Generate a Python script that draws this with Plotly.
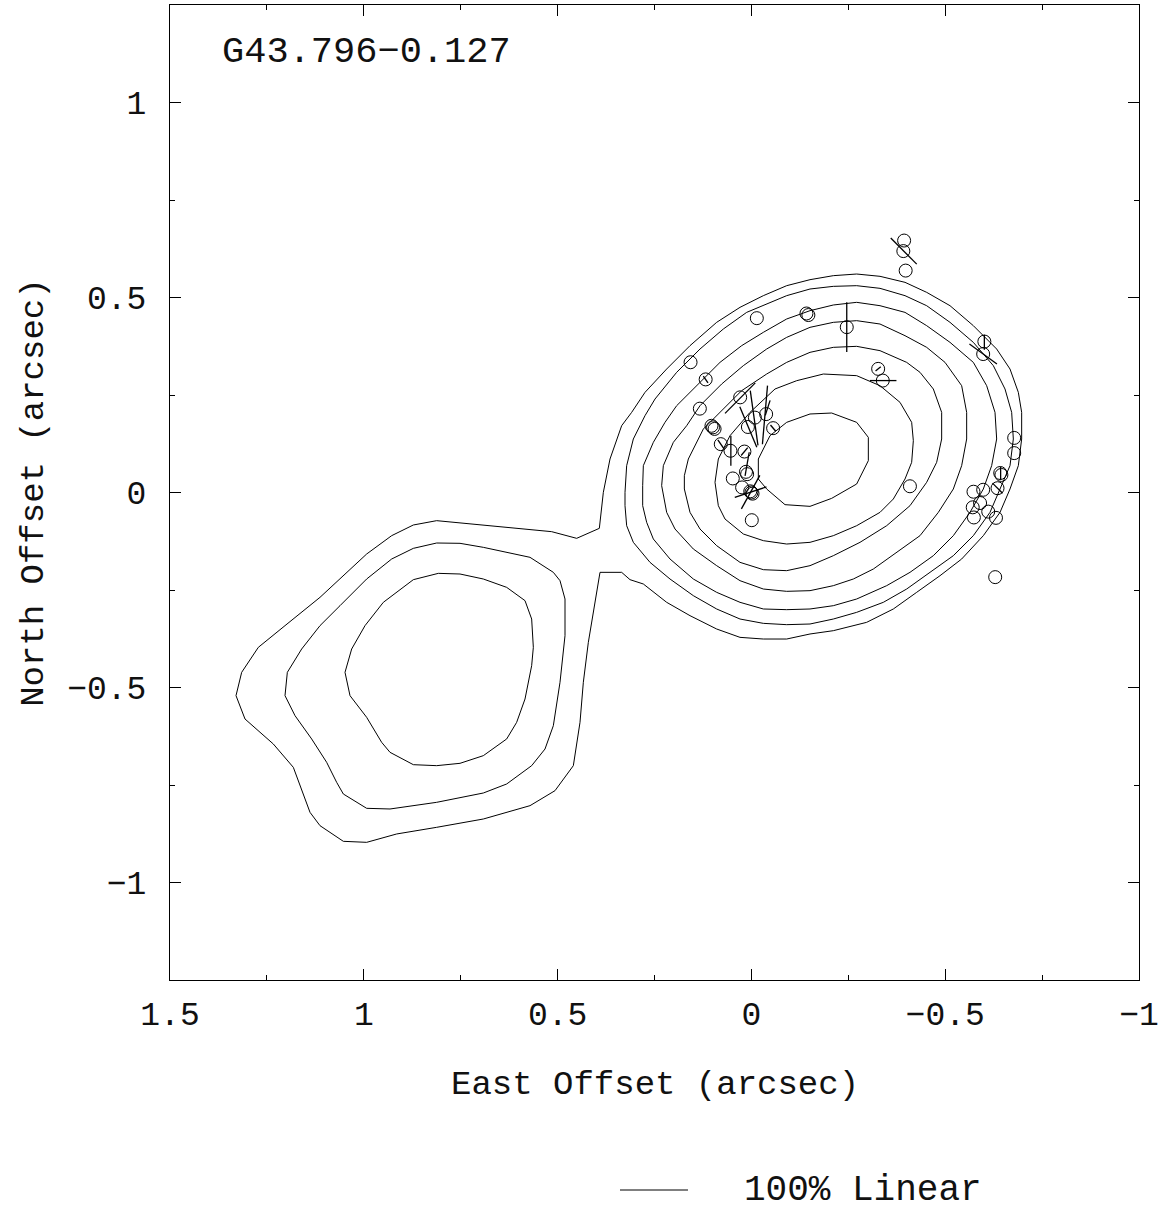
import math
import plotly.graph_objects as go

# ---------------- data (arcsec) ----------------
source_name = "G43.796\u22120.127"
legend_label = "100% Linear"
legend_percent = 100.0

x_tickvals = [1.5, 1.0, 0.5, 0.0, -0.5, -1.0]
x_ticktext = ["1.5", "1", "0.5", "0", "\u22120.5", "\u22121"]
y_tickvals = [1.0, 0.5, 0.0, -0.5, -1.0]
y_ticktext = ["1", "0.5", "0", "\u22120.5", "\u22121"]
minor_vals = [1.25, 0.75, 0.25, -0.25, -0.75]

# outermost contour (encloses both components, narrow waist between them)
outer_x = [0.3923, 0.4508, 0.5153, 0.6314, 0.7518, 0.8120, 0.8722, 0.9281, 0.9926, 1.0528,
           1.1130, 1.2033, 1.2721, 1.3151, 1.3297, 1.3065, 1.2334, 1.1818, 1.1388, 1.1130,
           1.0528, 0.9926, 0.9152, 0.8120, 0.6916, 0.5712, 0.5067, 0.4594, 0.4422, 0.4336,
           0.4207, 0.3906, 0.3347, 0.3132,
           0.2788, 0.2186, 0.1584, 0.0896, 0.0294, -0.0308, -0.0910, -0.1512, -0.2114, -0.2974,
           -0.3662, -0.4264, -0.4866, -0.5425, -0.5984, -0.6414, -0.6672, -0.6887, -0.6973, -0.6973,
           -0.6887, -0.6672, -0.6328, -0.5726, -0.5124, -0.4522, -0.3963, -0.3318, -0.2716, -0.2114,
           -0.1512, -0.0910, -0.0308, 0.0294, 0.0896, 0.1584, 0.2186, 0.2745, 0.3089, 0.3347,
           0.3648, 0.3820, 0.3923, 0.3923]
outer_y = [-0.0919, -0.1175, -0.1004, -0.0893, -0.0765, -0.0722, -0.0833, -0.1107, -0.1577, -0.2132,
           -0.2688, -0.3414, -0.3970, -0.4611, -0.5209, -0.5808, -0.6449, -0.7047, -0.8201, -0.8543,
           -0.8944, -0.8970, -0.8756, -0.8585, -0.8372, -0.8030, -0.7645, -0.7004, -0.5893, -0.4867,
           -0.3842, -0.2047, -0.2047, -0.2235,
           -0.2346, -0.2816, -0.3158, -0.3500, -0.3714, -0.3757, -0.3757, -0.3628, -0.3543, -0.3329,
           -0.2987, -0.2560, -0.2133, -0.1705, -0.1107, -0.0509, 0.0090, 0.0688, 0.1372, 0.2055,
           0.2568, 0.3166, 0.3679, 0.4278, 0.4790, 0.5132, 0.5389, 0.5543, 0.5602, 0.5560,
           0.5457, 0.5303, 0.5047, 0.4748, 0.4363, 0.3765, 0.3166, 0.2568, 0.2055, 0.1713,
           0.0859, 0.0004, -0.0893, -0.0919]

# south-east component, middle and inner contours
se_mid_x = [0.8120, 0.7518, 0.6916, 0.6314, 0.5712, 0.5110, 0.4938, 0.4809, 0.4809, 0.4938,
            0.5110, 0.5325, 0.5669, 0.6314, 0.6916, 0.8120, 0.9324, 0.9926, 1.0528, 1.0700,
            1.0958, 1.1345, 1.1775, 1.2033, 1.1973, 1.1603, 1.1130, 1.0614, 0.9926, 0.9281,
            0.8722, 0.8120]
se_mid_y = [-0.1295, -0.1303, -0.1406, -0.1534, -0.1662, -0.2047, -0.2261, -0.2731, -0.3671, -0.4867,
            -0.5979, -0.6577, -0.7004, -0.7474, -0.7705, -0.7944, -0.8115, -0.8098, -0.7731, -0.7432,
            -0.6919, -0.6320, -0.5722, -0.5209, -0.4611, -0.4013, -0.3414, -0.2902, -0.2218, -0.1705,
            -0.1432, -0.1295]
se_in_x = [0.8077, 0.7518, 0.6916, 0.6314, 0.5841, 0.5669, 0.5626, 0.5669, 0.5841, 0.6056,
           0.6314, 0.6916, 0.7518, 0.8120, 0.8722, 0.9324, 0.9539, 0.9926, 1.0356, 1.0485,
           1.0313, 0.9969, 0.9496, 0.8722, 0.8077]
se_in_y = [-0.2073, -0.2090, -0.2218, -0.2432, -0.2773, -0.3244, -0.3970, -0.4440, -0.5295, -0.5893,
           -0.6320, -0.6748, -0.6944, -0.7004, -0.6979, -0.6662, -0.6406, -0.5765, -0.5209, -0.4611,
           -0.4013, -0.3414, -0.2816, -0.2235, -0.2073]

# north-west component, contours 6 (outer) .. 1 (inner)
nw6_x = [0.3261, 0.3218, 0.3046, 0.2745, 0.2487, 0.1928, 0.1326, 0.0724, 0.0122, -0.0480,
         -0.0910, -0.1512, -0.2114, -0.2716, -0.3318, -0.3963, -0.4522, -0.5124, -0.5726, -0.6242,
         -0.6543, -0.6715, -0.6758, -0.6672, -0.6414, -0.6156, -0.5726, -0.5210, -0.4608, -0.4006,
         -0.3404, -0.2716, -0.2114, -0.1512, -0.0910, -0.0308, 0.0294, 0.0896, 0.1498, 0.2100,
         0.2616, 0.3046, 0.3218, 0.3261, 0.3261]
nw6_y = [0.0004, 0.0688, 0.1372, 0.1970, 0.2397, 0.3081, 0.3679, 0.4192, 0.4619, 0.4876,
         0.5047, 0.5218, 0.5286, 0.5303, 0.5235, 0.5047, 0.4790, 0.4363, 0.3850, 0.3252,
         0.2654, 0.2055, 0.1372, 0.0688, 0.0090, -0.0509, -0.1107, -0.1620, -0.2047, -0.2475,
         -0.2816, -0.3073, -0.3244, -0.3372, -0.3389, -0.3355, -0.3244, -0.2987, -0.2645, -0.2218,
         -0.1791, -0.1278, -0.0851, -0.0338, 0.0004]
nw5_x = [0.2805, 0.2788, 0.2530, 0.2229, 0.1928, 0.1412, 0.0810, 0.0251, -0.0308, -0.0910,
         -0.1512, -0.2114, -0.2716, -0.3318, -0.3963, -0.4522, -0.5124, -0.5726, -0.6070, -0.6285,
         -0.6328, -0.6199, -0.5984, -0.5640, -0.5210, -0.4694, -0.4092, -0.3490, -0.2716, -0.2114,
         -0.1512, -0.0910, -0.0308, 0.0294, 0.0896, 0.1498, 0.2100, 0.2530, 0.2702, 0.2805,
         0.2805]
nw5_y = [0.0175, 0.0688, 0.1286, 0.1799, 0.2226, 0.2739, 0.3337, 0.3765, 0.4107, 0.4449,
         0.4662, 0.4808, 0.4876, 0.4790, 0.4619, 0.4278, 0.3850, 0.3337, 0.2739, 0.2055,
         0.1372, 0.0688, 0.0090, -0.0509, -0.1107, -0.1620, -0.2047, -0.2389, -0.2731, -0.2902,
         -0.2987, -0.3004, -0.2987, -0.2816, -0.2560, -0.2218, -0.1705, -0.1192, -0.0765, -0.0338,
         0.0175]
nw4_x = [0.2315, 0.2272, 0.2014, 0.1670, 0.1326, 0.0767, 0.0208, -0.0394, -0.0910, -0.1512,
         -0.2114, -0.2716, -0.3318, -0.3963, -0.4522, -0.4995, -0.5425, -0.5554, -0.5554, -0.5425,
         -0.5210, -0.4823, -0.4350, -0.3748, -0.3146, -0.2630, -0.2114, -0.1512, -0.0910, -0.0308,
         0.0294, 0.0896, 0.1498, 0.1971, 0.2186, 0.2315]
nw4_y = [0.0175, 0.0688, 0.1286, 0.1713, 0.2226, 0.2782, 0.3252, 0.3679, 0.3978, 0.4235,
         0.4363, 0.4406, 0.4320, 0.4021, 0.3722, 0.3337, 0.2739, 0.2055, 0.1372, 0.0688,
         0.0090, -0.0509, -0.1107, -0.1534, -0.1962, -0.2218, -0.2389, -0.2517, -0.2534, -0.2475,
         -0.2261, -0.1876, -0.1449, -0.0936, -0.0509, 0.0175]
nw3_x = [0.1730, 0.1627, 0.1240, 0.0724, 0.0251, -0.0394, -0.0910, -0.1512, -0.2114, -0.2716,
         -0.3318, -0.4006, -0.4350, -0.4694, -0.4909, -0.4909, -0.4780, -0.4522, -0.4092, -0.3490,
         -0.2802, -0.2114, -0.1512, -0.0910, -0.0308, 0.0294, 0.0896, 0.1326, 0.1584, 0.1730,
         0.1730]
nw3_y = [0.0431, 0.0859, 0.1628, 0.2141, 0.2611, 0.3038, 0.3337, 0.3594, 0.3722, 0.3748,
         0.3637, 0.3337, 0.3081, 0.2654, 0.2055, 0.1372, 0.0773, 0.0261, -0.0338, -0.0851,
         -0.1278, -0.1620, -0.1876, -0.2004, -0.1979, -0.1791, -0.1363, -0.0936, -0.0509, 0.0090,
         0.0431]
nw2_x = [0.0939, 0.0853, 0.0552, 0.0036, -0.0609, -0.1168, -0.1856, -0.2716, -0.3318, -0.3834,
         -0.4135, -0.4178, -0.4135, -0.3963, -0.3662, -0.3318, -0.2716, -0.2114, -0.1512, -0.0910,
         -0.0308, 0.0208, 0.0681, 0.0853, 0.0939]
nw2_y = [0.0261, 0.0859, 0.1457, 0.2055, 0.2654, 0.2867, 0.3038, 0.2996, 0.2739, 0.2312,
         0.1799, 0.1329, 0.0773, 0.0346, -0.0167, -0.0509, -0.0851, -0.1107, -0.1278, -0.1321,
         -0.1235, -0.1064, -0.0680, -0.0338, 0.0261]
nw1_x = [-0.0179, -0.0480, -0.0910, -0.1512, -0.2071, -0.2716, -0.3017, -0.3017, -0.2716, -0.2071,
         -0.1512, -0.0867, -0.0394, -0.0179, -0.0179]
nw1_y = [0.0859, 0.1457, 0.1799, 0.2013, 0.2038, 0.1799, 0.1414, 0.0816, 0.0218, -0.0150,
         -0.0355, -0.0312, 0.0090, 0.0346, 0.0859]

# maser spot positions (arcsec)
spot_x = [0.157, 0.118, -0.014, -0.142, -0.147, -0.246, -0.327, -0.339, -0.394, -0.392,
          -0.398, -0.601, -0.598, -0.678, -0.678, -0.642, -0.645, -0.635, -0.573, -0.598,
          -0.590, -0.571, -0.574, -0.611, -0.631, -0.629, -0.409, 0.133, 0.029, 0.103,
          0.099, 0.095, 0.079, 0.054, 0.018, -0.009, -0.038, 0.009, -0.056, 0.014,
          0.011, 0.048, 0.024, 0.003, 0.000, -0.003, -0.001]
spot_y = [0.334, 0.290, 0.447, 0.459, 0.455, 0.424, 0.317, 0.287, 0.646, 0.619,
          0.569, 0.387, 0.355, 0.140, 0.101, 0.050, 0.045, 0.011, 0.002, 0.007,
          -0.027, -0.038, -0.064, -0.049, -0.065, -0.217, 0.016, 0.215, 0.244, 0.171,
          0.167, 0.163, 0.124, 0.107, 0.105, 0.192, 0.201, 0.168, 0.165, 0.053,
          0.047, 0.036, 0.013, 0.003, 0.000, -0.003, -0.071]

# polarization vectors: centre (arcsec), linear polarization (%), position angle (deg E of N)
vec_x = [-0.246, -0.393, -0.340, -0.598, -0.601, 0.029, -0.007, 0.008, -0.035, -0.056,
         0.053, 0.079, 0.018, 0.011, 0.002, 0.002, 0.118, -0.327, -0.643, -0.635, -0.042]
vec_y = [0.424, 0.619, 0.287, 0.355, 0.385, 0.242, 0.191, 0.168, 0.199, 0.165,
         0.107, 0.124, 0.105, 0.073, 0.001, 0.001, 0.290, 0.317, 0.049, 0.011, 0.217]
vec_pct = [73, 54, 39, 50, 22, 63, 81, 64, 86, 12,
           44, 15, 15, 35, 56, 49, 12, 10, 19, 21, 23]
vec_pa = [0, 45, 90, 54, 0, -45, 8, 23, -5, 40,
          0, 35, -40, -10, -29, -72, 35, -50, 0, 45, -18]

# vector length scale: arcsec per 100 % linear polarization
arcsec_per_100pct = 0.1754

# ---------------- figure ----------------
fig = go.Figure()
line_style = dict(color="black", width=1)

contours = [(outer_x, outer_y), (se_mid_x, se_mid_y), (se_in_x, se_in_y),
            (nw6_x, nw6_y), (nw5_x, nw5_y), (nw4_x, nw4_y),
            (nw3_x, nw3_y), (nw2_x, nw2_y), (nw1_x, nw1_y)]
for cx, cy in contours:
    fig.add_trace(go.Scatter(x=cx, y=cy, mode="lines", line=line_style,
                             hoverinfo="skip", showlegend=False))

fig.add_trace(go.Scatter(x=spot_x, y=spot_y, mode="markers",
                         marker=dict(symbol="circle-open", size=13, color="black",
                                     line=dict(width=1, color="black")),
                         showlegend=False))

vx, vy = [], []
for x0, y0, p, pa in zip(vec_x, vec_y, vec_pct, vec_pa):
    half = 0.5 * p / 100.0 * arcsec_per_100pct
    dx = half * math.sin(math.radians(pa))
    dy = half * math.cos(math.radians(pa))
    vx += [x0 + dx, x0 - dx, None]
    vy += [y0 + dy, y0 - dy, None]
fig.add_trace(go.Scatter(x=vx, y=vy, mode="lines", line=dict(color="black", width=1.3),
                         hoverinfo="skip", showlegend=False))

font_family = "Liberation Mono"
text_color = "#111111"
axis_common = dict(showgrid=False, zeroline=False, showline=True, mirror="ticks",
                   linecolor="black", linewidth=1, ticks="inside", ticklen=11,
                   tickwidth=1, tickcolor="black", tickmode="array",
                   tickfont=dict(family=font_family, size=33, color=text_color),
                   minor=dict(tickmode="array", tickvals=minor_vals, ticks="inside",
                              ticklen=5, tickwidth=1, tickcolor="black", showgrid=False))

fig.update_xaxes(range=[1.5, -1.0], tickvals=x_tickvals, ticktext=x_ticktext,
                 ticklabelstandoff=4, **axis_common)
fig.update_yaxes(range=[-1.25, 1.25], tickvals=y_tickvals, ticktext=y_ticktext,
                 ticklabelstandoff=16, **axis_common)

# legend scale bar (100 % linear polarization), centred below the plot
bar_centre = 0.2513
fig.add_shape(type="line", xref="x", yref="paper",
              x0=bar_centre + 0.5 * arcsec_per_100pct * legend_percent / 100.0,
              x1=bar_centre - 0.5 * arcsec_per_100pct * legend_percent / 100.0,
              y0=-0.2154, y1=-0.2154, line=dict(color="black", width=1))

annotations = [
    dict(text=source_name, xref="paper", yref="paper", x=0.052, y=0.952,
         xanchor="left", yanchor="middle", showarrow=False,
         font=dict(family=font_family, size=37, color=text_color)),
    dict(text="East Offset (arcsec)", xref="paper", yref="paper", x=0.5, y=-0.108,
         xanchor="center", yanchor="middle", showarrow=False,
         font=dict(family=font_family, size=34, color=text_color)),
    dict(text="North Offset (arcsec)", xref="paper", yref="paper", x=-0.141, y=0.5,
         xanchor="center", yanchor="middle", showarrow=False, textangle=-90,
         font=dict(family=font_family, size=34, color=text_color)),
    dict(text=legend_label, xref="paper", yref="paper", x=0.59, y=-0.2154,
         xanchor="left", yanchor="middle", showarrow=False,
         font=dict(family=font_family, size=36, color=text_color)),
]

fig.update_layout(width=1172, height=1212, margin=dict(l=170, r=33, t=5, b=232),
                  paper_bgcolor="white", plot_bgcolor="white",
                  annotations=annotations, showlegend=False)

fig.write_html("out.html", config={"displayModeBar": False},
               post_script="document.body.style.margin='0';document.body.style.overflow='hidden';")
